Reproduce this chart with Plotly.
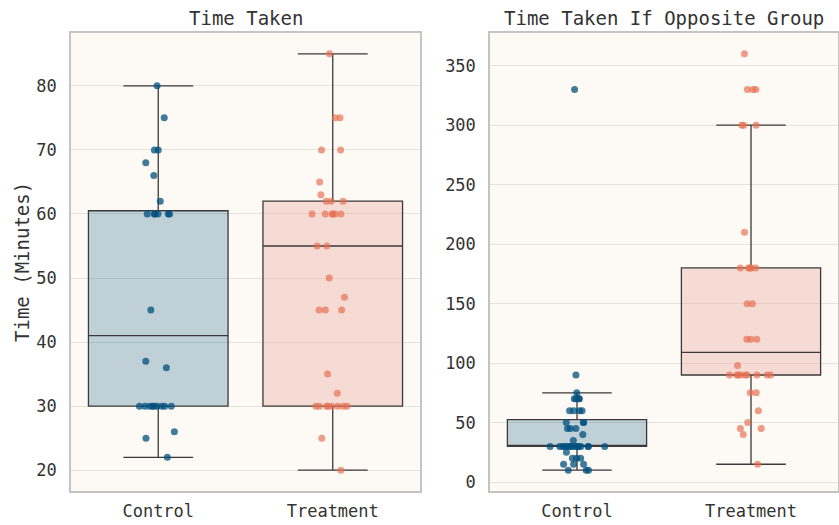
import numpy as np
import plotly.graph_objects as go

categories = ["Control", "Treatment"]

time_control = [22, 25, 26, 30, 30, 30, 30, 30, 30, 30, 30, 30, 36, 37, 45,
                60, 60, 60, 60, 60, 60, 62, 66, 68, 70, 70, 75, 80]
time_treatment = [20, 25, 30, 30, 30, 30, 30, 30, 30, 30, 32, 35, 45, 45, 45,
                  47, 50, 55, 55, 60, 60, 60, 60, 60, 60, 62, 62, 62, 63, 65,
                  70, 70, 75, 75, 85]
opp_control = [10, 10, 10, 15, 15, 15, 20, 20, 20, 25,
               30, 30, 30, 30, 30, 30, 30, 30, 30, 30, 30, 30, 30, 30, 30,
               35, 40, 45, 45, 45, 50, 50, 50, 60, 60, 60, 60,
               70, 70, 70, 70, 75, 90, 330]
opp_treatment = [15, 40, 45, 45, 50, 60, 75, 75,
                 90, 90, 90, 90, 90, 90, 90, 90, 90, 98,
                 120, 120, 120, 150, 150, 180, 180, 180, 180, 180, 210,
                 300, 300, 300, 330, 330, 330, 360]

panel_titles = ["Time Taken", "Time Taken If Opposite Group"]
y_label = "Time (Minutes)"

FONT = "DejaVu Sans Mono"
TXT = "#333333"
BOX_FILL = {"Control": "rgba(0,80,127,0.24)", "Treatment": "rgba(232,162,152,0.35)"}
PT_COL = {"Control": "rgba(0,80,127,0.75)", "Treatment": "rgba(231,111,81,0.68)"}
EDGE = "#3a3a3a"


def box_stats(v):
    q1, med, q3 = np.percentile(v, [25, 50, 75])
    iqr = q3 - q1
    lo = min(x for x in v if x >= q1 - 1.5 * iqr)
    hi = max(x for x in v if x <= q3 + 1.5 * iqr)
    return q1, med, q3, lo, hi


fig = go.Figure()
panels = [
    ("x", "y", {"Control": time_control, "Treatment": time_treatment}),
    ("x2", "y2", {"Control": opp_control, "Treatment": opp_treatment}),
]
for xa, ya, data in panels:
    for cat in categories:
        v = data[cat]
        q1, med, q3, lo, hi = box_stats(v)
        fig.add_trace(go.Box(
            x=[cat], q1=[q1], median=[med], q3=[q3],
            lowerfence=[lo], upperfence=[hi],
            width=0.8, whiskerwidth=0.5, boxpoints=False,
            fillcolor=BOX_FILL[cat], line=dict(color=EDGE, width=1.3),
            xaxis=xa, yaxis=ya, showlegend=False, hoverinfo="skip",
        ))
        fig.add_trace(go.Box(
            x=[cat] * len(v), y=v, width=0.8,
            boxpoints="all", jitter=0.45, pointpos=0,
            fillcolor="rgba(0,0,0,0)", line=dict(width=0, color="rgba(0,0,0,0)"),
            marker=dict(color=PT_COL[cat], size=7, line=dict(width=0)),
            xaxis=xa, yaxis=ya, showlegend=False,
        ))

W, H = 839, 525
x1 = [71 / W, 420 / W]
x2 = [490 / W, 838 / W]
yd = [(H - 491) / H, (H - 33) / H]

xcommon = dict(type="category", categoryorder="array", categoryarray=categories,
               range=[-0.5, 1.5], showgrid=False, zeroline=False,
               showline=True, mirror=True, linecolor="#c4c4c4", linewidth=1.5,
               ticks="outside", ticklen=4, tickcolor="rgba(0,0,0,0)",
               tickfont=dict(family=FONT, size=17, color=TXT))
ycommon = dict(showgrid=True, gridcolor="#e6e2dd", gridwidth=1, zeroline=False,
               showline=True, mirror=True, linecolor="#c4c4c4", linewidth=1.5,
               ticks="outside", ticklen=9, tickcolor="rgba(0,0,0,0)",
               tickfont=dict(family=FONT, size=17, color=TXT))

fig.update_layout(
    width=W, height=H,
    margin=dict(l=0, r=0, t=0, b=0),
    paper_bgcolor="white", plot_bgcolor="#fdf9f4",
    boxmode="overlay",
    xaxis=dict(domain=x1, anchor="y", **xcommon),
    xaxis2=dict(domain=x2, anchor="y2", **xcommon),
    yaxis=dict(domain=yd, anchor="x", range=[16.75, 88.25], dtick=10, tick0=0, **ycommon),
    yaxis2=dict(domain=yd, anchor="x2", range=[-7.5, 377.5], dtick=50, tick0=0, **ycommon),
    annotations=[
        dict(text=panel_titles[0], x=sum(x1) / 2, y=(H - 18) / H, xref="paper", yref="paper",
             showarrow=False, xanchor="center", yanchor="middle",
             font=dict(family=FONT, size=19, color=TXT)),
        dict(text=panel_titles[1], x=sum(x2) / 2, y=(H - 18) / H, xref="paper", yref="paper",
             showarrow=False, xanchor="center", yanchor="middle",
             font=dict(family=FONT, size=19, color=TXT)),
        dict(text=y_label, x=22 / W, y=(H - 262) / H, xref="paper", yref="paper",
             showarrow=False, xanchor="center", yanchor="middle", textangle=-90,
             font=dict(family=FONT, size=19, color=TXT)),
    ],
)

fig.write_html("out.html", config={"displayModeBar": False},
               post_script="document.body.style.margin='0';document.body.style.overflow='hidden';")
